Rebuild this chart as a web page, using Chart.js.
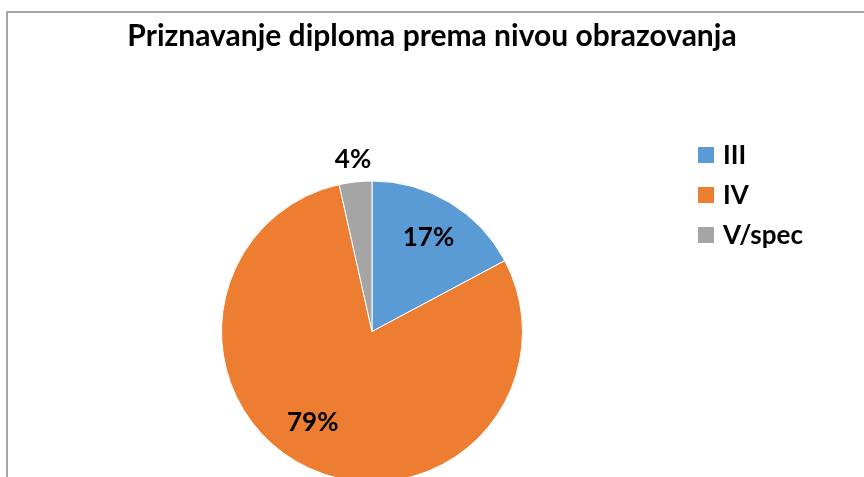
<!DOCTYPE html>
<html>
<head>
<meta charset="utf-8">
<script src="https://cdn.jsdelivr.net/npm/chart.js@4"></script>
<style>
  html, body { margin: 0; padding: 0; background: #fff; overflow: hidden; height: 477px; }
  canvas { display: block; }
</style>
</head>
<body>
<canvas id="pie" width="864" height="490"></canvas>
<script>
// Chart data
const chartTitle = 'Priznavanje diploma prema nivou obrazovanja';
const levels = ['III', 'IV', 'V/spec'];
const shares = [17.2, 79.3, 3.5];
const shareLabels = ['17%', '79%', '4%'];
const colors = ['#5B9BD5', '#ED7D31', '#A5A5A5'];

const FONT = 'Lato, "Open Sans", sans-serif';

// where each percent label sits: fraction of radius + angle shift (deg)
const labelRadius = [0.73, 0.72, 1.15];
const labelShift = [0, 8.5, 0];

const decorPlugin = {
    id: 'decor',
    beforeDraw(chart) {
        const ctx = chart.ctx;
        ctx.save();
        // frame (only top and left are visible in the crop)
        ctx.strokeStyle = '#a6a6a6';
        ctx.lineWidth = 2;
        ctx.beginPath();
        ctx.moveTo(7, chart.height);
        ctx.lineTo(7, 12);
        ctx.lineTo(chart.width, 12);
        ctx.stroke();

        // title
        ctx.fillStyle = '#000';
        ctx.font = 'bold 30px ' + FONT;
        ctx.textAlign = 'center';
        ctx.textBaseline = 'alphabetic';
        ctx.fillText(chartTitle, 432, 46);
        ctx.restore();
    },
    afterDraw(chart) {
        const ctx = chart.ctx;
        const meta = chart.getDatasetMeta(0);
        ctx.save();

        // percentage labels
        ctx.fillStyle = '#000';
        ctx.font = 'bold 26px ' + FONT;
        ctx.textAlign = 'center';
        ctx.textBaseline = 'middle';
        meta.data.forEach((arc, i) => {
            const mid = (arc.startAngle + arc.endAngle) / 2 + labelShift[i] * Math.PI / 180;
            const r = arc.outerRadius * labelRadius[i];
            ctx.fillText(shareLabels[i], arc.x + Math.cos(mid) * r, arc.y + Math.sin(mid) * r);
        });

        // legend
        ctx.font = 'bold 26px ' + FONT;
        ctx.textAlign = 'left';
        levels.forEach((lvl, i) => {
            const y = 155 + i * 40;
            ctx.fillStyle = colors[i];
            ctx.fillRect(698, y - 8, 16, 16);
            ctx.fillStyle = '#000';
            ctx.fillText(lvl, 723, y + 1);
        });
        ctx.restore();
    }
};

new Chart(document.getElementById('pie'), {
    type: 'pie',
    data: {
        labels: levels,
        datasets: [{
            data: shares,
            backgroundColor: colors,
            borderColor: '#ffffff',
            borderWidth: 1,
        }],
    },
    options: {
        responsive: false,
        animation: false,
        layout: {
            padding: { left: 221, right: 341, top: 180, bottom: 7 },
        },
        plugins: {
            legend: { display: false },
            title: { display: false },
            tooltip: { enabled: false },
        },
    },
    plugins: [decorPlugin],
});
</script>
</body>
</html>
